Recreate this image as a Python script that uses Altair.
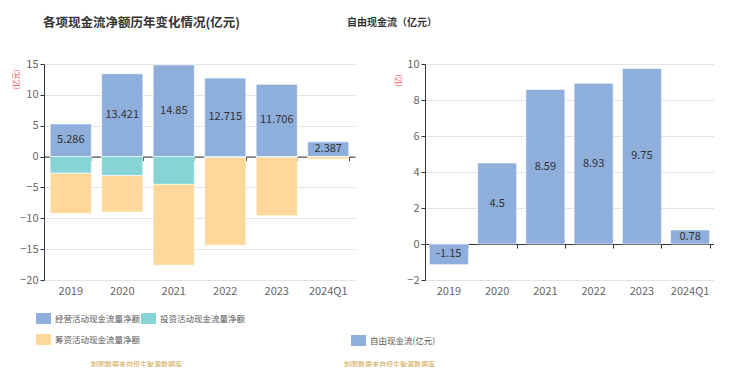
import altair as alt
import pandas as pd

FONT = "Noto Sans CJK SC"

years = ["2019", "2020", "2021", "2022", "2023", "2024Q1"]
operating = [5.286, 13.421, 14.85, 12.715, 11.706, 2.387]
investing = [-2.7, -3.1, -4.5, -0.15, -0.1, -0.03]
financing = [-6.5, -5.9, -13.1, -14.2, -9.5, -0.4]
series_names = ["经营活动现金流量净额", "投资活动现金流量净额", "筹资活动现金流量净额"]
series_colors = ["#8eaedb", "#86d4d6", "#fdd89a"]

fcf = [-1.15, 4.5, 8.59, 8.93, 9.75, 0.78]
fcf_name = "自由现金流(亿元)"

left_title = "各项现金流净额历年变化情况(亿元)"
right_title = "自由现金流（亿元）"
footer = "制图数据来自恒生聚源数据库"

rows = []
for i, y in enumerate(years):
    for k, vals in enumerate([operating, investing, financing]):
        rows.append({"year": y, "series": series_names[k], "value": vals[i], "ord": k})
df_left = pd.DataFrame(rows)
df_op = pd.DataFrame({"year": years, "value": operating, "label": [str(v) for v in operating]})
df_zero = pd.DataFrame({"year": years, "z": [0] * len(years)})
df_fcf = pd.DataFrame({"year": years, "value": fcf, "series": [fcf_name] * len(years),
                       "label": [str(v) for v in fcf]})

sym = "M-1,-0.73H1V0.73H-1Z"
LW, H = 311, 216
RW = 289


def legend(x, y):
    return alt.Legend(orient="none", legendX=x, legendY=y, columns=2, direction="horizontal",
                      title=None, symbolType=sym, symbolSize=225, symbolStrokeWidth=0,
                      labelFontSize=8.5, labelColor="#555", labelOffset=4,
                      columnPadding=0, rowPadding=8, padding=0, labelFont=FONT)


def x_axis_main(tx):
    return alt.Axis(title=footer, titleColor="#d2a64e", titleFontSize=7, titleFontWeight="normal",
                    titleX=tx, titleY=84, titleBaseline="middle", titleFont=FONT,
                    labelAngle=0, labelColor="#666", labelFontSize=11, labelPadding=5,
                    domain=False, ticks=False, grid=False, labelFont=FONT)


def zero_axis(off):
    return alt.Axis(orient="bottom", offset=off, labels=False, domain=True, domainColor="#333",
                    ticks=True, tickColor="#333", tickSize=4, tickBand="extent",
                    title=None, grid=False)


def y_axis(vals, title, tx, ty):
    return alt.Axis(values=vals, title=title, titleColor="#ff4d4d", titleFontSize=7.5,
                    titleFontWeight="normal", titleX=tx, titleY=ty, titleAlign="center",
                    titleBaseline="middle", titleFont=FONT,
                    labelColor="#666", labelFontSize=11, labelPadding=2, labelFont=FONT,
                    tickSize=4, tickColor="#333", domainColor="#333",
                    grid=True, gridColor="#e3e3e3")


# ---------- left ----------
lx_scale = alt.Scale(domain=years, paddingInner=0.2, paddingOuter=0.12)
ly_scale = alt.Scale(domain=[-20, 15], nice=False)

l_bars = alt.Chart(df_left).mark_bar(stroke="#ffffff", strokeWidth=0.8, strokeOpacity=0.8).encode(
    x=alt.X("year:N", sort=years, scale=lx_scale, axis=x_axis_main(92)),
    y=alt.Y("value:Q", stack="zero", scale=ly_scale,
            axis=y_axis([-20, -15, -10, -5, 0, 5, 10, 15], "(亿元)", -28, 15)),
    color=alt.Color("series:N", scale=alt.Scale(domain=series_names, range=series_colors),
                    legend=legend(-8, 247)),
    order=alt.Order("ord:Q"),
)
l_text = alt.Chart(df_op).transform_calculate(mid="datum.value / 2").mark_text(
    fontSize=11, color="#333", font=FONT).encode(
    x=alt.X("year:N", sort=years, scale=lx_scale, axis=None),
    y=alt.Y("mid:Q", scale=ly_scale, axis=None),
    text="label:N",
)
l_zero = alt.Chart(df_zero).mark_point(opacity=0).encode(
    x=alt.X("year:N", sort=years, scale=lx_scale, axis=zero_axis(-H * 20 / 35)),
    y=alt.Y("z:Q", scale=ly_scale, axis=None),
)
left = alt.layer(l_bars, l_text, l_zero).resolve_axis(x="independent", y="independent").properties(
    width=LW, height=H,
    title=alt.TitleParams(text=left_title, anchor="start", frame="group", fontSize=12.5,
                          fontWeight="bold", color="#333", offset=29, dx=-1, font=FONT),
)

# ---------- right ----------
rx_scale = alt.Scale(domain=years, paddingInner=0.19, paddingOuter=0.09)
ry_scale = alt.Scale(domain=[-2, 10], nice=False)

r_bars = alt.Chart(df_fcf).mark_bar(stroke="#ffffff", strokeWidth=0.8, strokeOpacity=0.8).encode(
    x=alt.X("year:N", sort=years, scale=rx_scale, axis=x_axis_main(-36)),
    y=alt.Y("value:Q", scale=ry_scale, axis=y_axis([-2, 0, 2, 4, 6, 8, 10], "(亿)", -27, 16)),
    color=alt.Color("series:N", scale=alt.Scale(domain=[fcf_name], range=["#8eaedb"]),
                    legend=legend(-74, 269)),
)
r_text = alt.Chart(df_fcf).transform_calculate(mid="datum.value / 2").mark_text(
    fontSize=11, color="#333", font=FONT).encode(
    x=alt.X("year:N", sort=years, scale=rx_scale, axis=None),
    y=alt.Y("mid:Q", scale=ry_scale, axis=None),
    text="label:N",
)
r_zero = alt.Chart(df_zero).mark_point(opacity=0).encode(
    x=alt.X("year:N", sort=years, scale=rx_scale, axis=zero_axis(-H * 2 / 12)),
    y=alt.Y("z:Q", scale=ry_scale, axis=None),
)
right = alt.layer(r_bars, r_text, r_zero).resolve_axis(x="independent", y="independent").properties(
    width=RW, height=H,
    title=alt.TitleParams(text=right_title, anchor="start", frame="group", fontSize=10,
                          fontWeight="bold", color="#333", offset=30, dx=-78, font=FONT),
)

chart = alt.hconcat(left, right, spacing=70, bounds="flush").resolve_scale(
    color="independent", x="independent", y="independent"
).properties(
    padding={"left": 4, "top": 8, "right": 0, "bottom": 0}
).configure(font=FONT).configure_view(stroke=None)

chart.save("out.html", embed_options={"renderer": "svg", "actions": False})
